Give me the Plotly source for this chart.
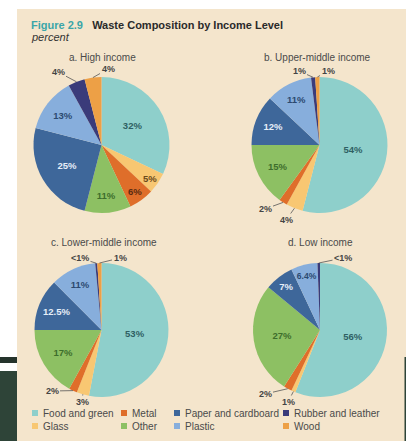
import math
import plotly.graph_objects as go

W, H = 406, 441

categories = ["Food and green", "Glass", "Metal", "Other",
              "Paper and cardboard", "Plastic", "Rubber and leather", "Wood"]
colors = ["#8ecfcb", "#f8c772", "#df6e2a", "#8dc063",
          "#3e679a", "#87aedc", "#3a3b7a", "#eda046"]
text_colors = ["#2f5f63", "#6a4a1a", "#5a2a10", "#3d6e2c",
               "#e6eef8", "#2c4a70", "#333333", "#333333"]

titles = ["a. High income", "b. Upper-middle income",
          "c. Lower-middle income", "d. Low income"]

high_income = [32, 5, 6, 11, 25, 13, 4, 4]
upper_middle = [54, 4, 2, 15, 12, 11, 1, 1]
lower_middle = [53, 3, 2, 17, 12.5, 11, 0.5, 1]
low_income = [56, 1, 2, 27, 7, 6.4, 0.6, 0]

high_labels = ["32%", "5%", "6%", "11%", "25%", "13%", "4%", "4%"]
upper_labels = ["54%", "4%", "2%", "15%", "12%", "11%", "1%", "1%"]
lower_labels = ["53%", "3%", "2%", "17%", "12.5%", "11%", "<1%", "1%"]
low_labels = ["56%", "1%", "2%", "27%", "7%", "6.4%", "<1%", ""]

series = [high_income, upper_middle, lower_middle, low_income]
labels = [high_labels, upper_labels, lower_labels, low_labels]

# ---- layout (pixel) settings ----
pie_pos = [(101.5, 145, 68), (319.5, 145, 68), (101.5, 330, 67), (320, 330, 67)]
title_pos = [(102, 57), (317, 57), (104, 243), (320, 243)]
# where the callout texts sit: {pie index: {category index: (x, y)}}
callout_pos = {
    0: {6: (58, 72), 7: (108, 69)},
    1: {1: (286, 220), 2: (265, 209), 6: (299, 71), 7: (328, 71)},
    2: {1: (82, 402), 2: (52, 391), 6: (80, 258), 7: (120, 258)},
    3: {1: (288, 402), 2: (265, 394), 6: (343, 258)},
}
legend_cols = [32, 121, 174, 283]
legend_rows = [413, 426]


def px(x):
    return x / W


def py(y):
    return 1 - y / H


fig = go.Figure()
annotations = []

for k, (vals, labs, (cx, cy, r)) in enumerate(zip(series, labels, pie_pos)):
    callouts = callout_pos.get(k, {})
    fig.add_trace(go.Pie(
        labels=categories,
        values=vals,
        text=["" if i in callouts else t for i, t in enumerate(labs)],
        textinfo="text",
        sort=False,
        direction="clockwise",
        rotation=0,
        marker=dict(colors=colors, line=dict(width=0)),
        textposition="inside",
        insidetextorientation="horizontal",
        insidetextfont=dict(color=text_colors, size=9.5, family="Liberation Sans", weight="bold"),
        showlegend=False,
        hoverinfo="label+value",
        domain=dict(x=[(cx - r) / W, (cx + r) / W],
                    y=[1 - (cy + r) / H, 1 - (cy - r) / H]),
    ))
    # callouts for thin slices: arrow points at the slice's mid angle on the rim
    total = sum(vals)
    cum = 0
    for i, v in enumerate(vals):
        if i in callouts and v > 0:
            mid = (cum + v / 2) / total * 2 * math.pi
            ex = cx + r * math.sin(mid)
            ey = cy - r * math.cos(mid)
            lx, ly = callouts[i]
            annotations.append(dict(
                x=px(ex), y=py(ey), xref="paper", yref="paper",
                ax=lx - ex, ay=ly - ey, text=labs[i], showarrow=True,
                arrowhead=0, arrowwidth=0.8, arrowcolor="#555555", standoff=0,
                font=dict(size=9, color="#444444", family="Liberation Sans", weight="bold")))
        cum += v

shapes = [
    dict(type="rect", xref="paper", yref="paper", x0=px(17), x1=1, y0=0, y1=py(9),
         fillcolor="#f4e5cc", line=dict(width=0), layer="below"),
    dict(type="rect", xref="paper", yref="paper", x0=0, x1=px(17), y0=py(363), y1=py(357),
         fillcolor="#25342c", line=dict(width=0), layer="below"),
    dict(type="rect", xref="paper", yref="paper", x0=0, x1=px(17), y0=0, y1=py(371),
         fillcolor="#2e4438", line=dict(width=0), layer="below"),
    dict(type="rect", xref="paper", yref="paper", x0=px(404.5), x1=1, y0=0, y1=py(357),
         fillcolor="#2e4438", line=dict(width=0), layer="above"),
]

annotations += [
    dict(x=px(29), y=py(25), xref="paper", yref="paper", xanchor="left", yanchor="middle",
         showarrow=False,
         text="<b><span style='color:#3aa5a8'>Figure 2.9</span>&nbsp;&nbsp;&nbsp;Waste Composition by Income Level</b>",
         font=dict(size=11, color="#2a2a2a", family="Liberation Sans")),
    dict(x=px(29), y=py(37), xref="paper", yref="paper", xanchor="left", yanchor="middle",
         showarrow=False, text="<i>percent</i>",
         font=dict(size=11, color="#333333", family="Liberation Sans")),
]
for t, (tx, ty) in zip(titles, title_pos):
    annotations.append(dict(x=px(tx), y=py(ty), xref="paper", yref="paper",
                            xanchor="center", yanchor="middle", showarrow=False, text=t,
                            font=dict(size=10, color="#4a4a4a", family="Liberation Sans")))

# legend laid out column-major, as in the original figure
for i, (cat, col) in enumerate(zip(categories, colors)):
    lx = legend_cols[i // 2]
    ly = legend_rows[i % 2]
    shapes.append(dict(type="rect", xref="paper", yref="paper",
                       x0=px(lx), x1=px(lx + 6), y0=py(ly + 3), y1=py(ly - 3),
                       fillcolor=col, line=dict(width=0)))
    annotations.append(dict(x=px(lx + 9), y=py(ly), xref="paper", yref="paper",
                            xanchor="left", yanchor="middle", showarrow=False, text=cat,
                            font=dict(size=10, color="#4a4a4a", family="Liberation Sans")))

fig.update_layout(
    width=W, height=H, autosize=False,
    margin=dict(l=0, r=0, t=0, b=0),
    paper_bgcolor="#ffffff",
    shapes=shapes,
    annotations=annotations,
)

fig.write_html("out.html", config={"displayModeBar": False},
               post_script="document.body.style.margin='0';")
